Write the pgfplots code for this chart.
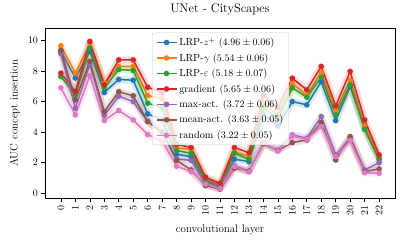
\documentclass[border=0pt]{standalone}
\usepackage{pgfplots}
\pgfplotsset{compat=1.18}
\usepackage{pgfplotstable}
\definecolor{tblue}{HTML}{1F77B4}
\definecolor{torange}{HTML}{FF7F0E}
\definecolor{tgreen}{HTML}{2CA02C}
\definecolor{tred}{HTML}{D62728}
\definecolor{tpurple}{HTML}{9467BD}
\definecolor{tbrown}{HTML}{8C564B}
\definecolor{tpink}{HTML}{E377C2}
\pgfplotstableread{
x blue orange green red purple brown pink
0 9.3 9.65 7.64 7.86 9.15 9.35 6.9
1 7.54 7.86 6.44 6.66 5.57 6.11 5.13
2 9.3 9.8 9.5 9.94 8.45 8.63 7.69
3 6.6 7.2 6.9 7.1 5.1 5.35 4.76
4 7.45 8.3 8.1 8.73 6.35 6.65 5.42
5 7.4 8.3 8.04 8.73 6.0 6.38 4.8
6 5.2 6.4 5.9 6.94 4.7 4.7 3.85
7 4.8 6.2 5.6 6.6 4.0 4.0 3.4
8 2.55 2.95 2.8 3.2 2.25 2.15 1.77
9 2.4 2.9 2.62 3.0 2.15 1.53 1.42
10 0.75 0.95 0.85 1.05 0.6 0.5 0.6
11 0.45 0.55 0.5 0.65 0.35 0.27 0.3
12 2.23 2.7 2.62 3.0 1.8 1.64 1.74
13 2.07 2.4 2.23 2.65 1.45 1.45 1.4
14 5.2 5.9 5.6 6.4 3.3 3.23 3.32
15 4.4 5.1 4.9 5.6 2.8 2.8 2.77
16 6.0 7.2 6.9 7.53 3.82 3.32 3.75
17 5.79 6.4 6.29 6.77 3.6 3.49 3.54
18 7.3 7.9 7.6 8.3 5.02 4.63 4.37
19 4.76 5.4 5.13 5.72 2.51 2.18 2.4
20 6.99 7.4 7.1 7.97 3.6 3.71 3.45
21 4.25 4.4 4.19 4.8 1.53 1.42 1.35
22 2.3 2.3 2.2 2.51 2.0 1.59 1.31
}\datatab
\newcommand{\bandseries}[2]{%
  \addplot[#2, opacity=0.17, line width=7bp, line join=round, line cap=round, forget plot] table[x=x, y=#1] {\datatab};
  \addplot[#2, line width=1.5bp, mark=*, mark size=2pt, mark options={solid}] table[x=x, y=#1] {\datatab};
}
\begin{document}
\begin{tikzpicture}
\useasboundingbox (-45bp,-45.7bp) rectangle (362bp,198.3bp);
\begin{axis}[
  at={(0,0)}, anchor=south west,
  scale only axis, width=350bp, height=170bp,
  xmin=-1.1, xmax=23.1, ymin=-0.33, ymax=10.8,
  xtick={0,...,22}, ytick={0,2,4,6,8,10},
  tick align=outside, major tick length=3.5bp,
  tick style={black, line width=0.6bp},
  axis line style={line width=0.8bp},
  xtick pos=bottom, ytick pos=left,
  x tick label style={rotate=90, anchor=east, font=\fontsize{10}{12}\selectfont},
  y tick label style={font=\fontsize{10}{12}\selectfont},
  title={UNet - CityScapes},
  title style={at={(axis description cs:0.5,1)}, anchor=base, yshift=9.5bp, font=\fontsize{12.5}{14}\selectfont},
  xlabel={convolutional layer},
  xlabel style={at={(axis description cs:0.5,-0.185)}, anchor=center, font=\fontsize{11}{13}\selectfont},
  ylabel={AUC concept insertion},
  ylabel style={at={(axis description cs:-0.086,0.5)}, anchor=center, rotate=0, font=\fontsize{11}{13}\selectfont},
  legend cell align=left,
  legend style={at={(0.306,0.975)}, anchor=north west, draw=black!20, rounded corners=2pt,
    fill=white, fill opacity=0.8, text opacity=1, inner xsep=3.5pt, inner ysep=3pt,
    row sep=2.3pt, font=\fontsize{10.3}{12}\selectfont},
  legend image code/.code={\draw[mark repeat=2, mark phase=2, #1] plot coordinates {(0bp,0bp) (10bp,0bp) (20bp,0bp)};},
]
\bandseries{blue}{tblue}
\bandseries{orange}{torange}
\bandseries{green}{tgreen}
\bandseries{red}{tred}
\bandseries{purple}{tpurple}
\bandseries{brown}{tbrown}
\bandseries{pink}{tpink}
\legend{{LRP-$z^+$ ($4.96\pm0.06$)},{LRP-$\gamma$ ($5.54\pm0.06$)},{LRP-$\varepsilon$ ($5.18\pm0.07$)},{gradient ($5.65\pm0.06$)},{max-act. ($3.72\pm0.06$)},{mean-act. ($3.63\pm0.05$)},{random ($3.22\pm0.05$)}}
\end{axis}
\end{tikzpicture}
\end{document}
